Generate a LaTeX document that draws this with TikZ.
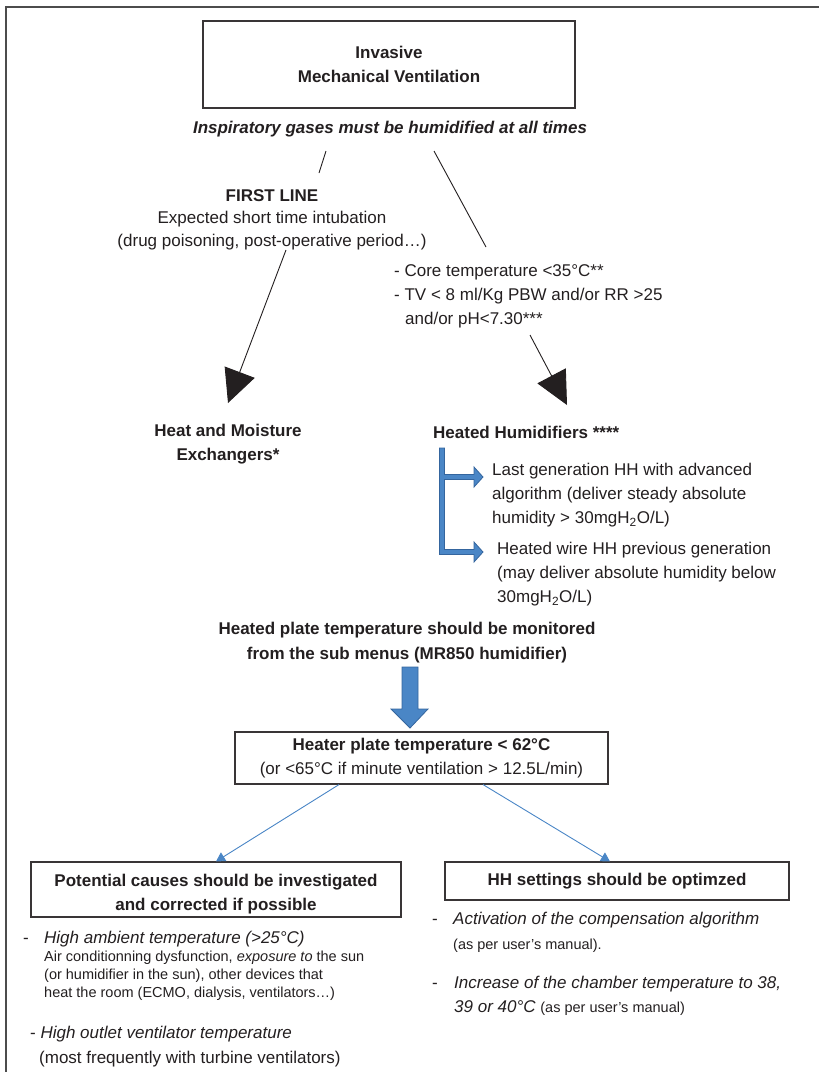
\documentclass[tikz,border=0pt]{standalone}
\usepackage{fontspec}
\setmainfont{Liberation Sans}
\usetikzlibrary{arrows.meta,positioning}
\definecolor{hhblue}{RGB}{74,134,198}
\definecolor{hhedge}{RGB}{52,101,158}
\definecolor{ink}{RGB}{35,31,32}
\newcommand{\bigfont}{\fontsize{17pt}{24pt}\selectfont}
\newcommand{\smallfont}{\fontsize{14.5pt}{18pt}\selectfont}

\begin{document}
\begin{tikzpicture}[x=1pt,y=-1pt,
  txt/.style={inner sep=0pt,font=\bigfont,text=ink},
  box/.style={draw=ink!90,line width=1.1pt,inner sep=0pt,font=\bigfont,text=ink,align=center},
  thinline/.style={draw=ink,line width=0.9pt},
  bigtip/.style={thinline,-{Triangle[length=33pt,width=32pt]}},
  bluelink/.style={draw=hhblue,line width=0.9pt,-{Triangle[length=9pt,width=10pt]}},
  blockarrow/.style={fill=hhblue,draw=hhedge,line width=0.8pt,line join=miter}]
\useasboundingbox (0,0) rectangle (819,1072);
% frame (top and left only)
\draw[gray!60!black,line width=1.6pt] (819,7) -- (6,7) -- (6,1072);

% top
\node[box,minimum width=372pt,minimum height=87pt,font=\bigfont\bfseries] (imv) at (389,64.5) {Invasive\\Mechanical Ventilation};
\node[txt,anchor=base,font=\bigfont\bfseries\itshape] (inspire) at (390,133) {Inspiratory gases must be humidified at all times};

% first line branch
\coordinate (a1) at (326,151); \coordinate (a2) at (319,173);
\draw[thinline] (a1) -- (a2);
\node[txt,anchor=north,align=center,font=\fontsize{17pt}{22.5pt}\selectfont] (first) at (272,189)
  {\textbf{FIRST LINE}\\Expected short time intubation\\(drug poisoning, post-operative period…)};
\coordinate (c1) at (286,250); \coordinate (c2) at (228,403);
\draw[bigtip] (c1) -- (c2);
\node[txt,anchor=north,align=center,font=\bigfont\bfseries] (hme) at (228,424) {Heat and Moisture\\Exchangers*};

% second branch
\coordinate (b1) at (434,151); \coordinate (b2) at (486,247);
\draw[thinline] (b1) -- (b2);
\node[txt,anchor=north west,align=left] (core) at (394,264)
  {- Core temperature <35°C**\\- TV < 8 ml/Kg PBW and/or RR >25\\\hspace*{11pt}and/or pH<7.30***};
\coordinate (d1) at (530,335); \coordinate (d2) at (567,405);
\draw[bigtip] (d1) -- (d2);
\node[txt,anchor=base west,font=\bigfont\bfseries] (hh) at (433,438) {Heated Humidifiers ****};

% bracket
\filldraw[blockarrow] (439.5,448) -- (439.5,554.5) -- (474,554.5) -- (474,562) -- (483,552) -- (474,542)
  -- (474,549.5) -- (444.5,549.5) -- (444.5,479.5) -- (474,479.5) -- (474,487) -- (483,477)
  -- (474,467) -- (474,474.5) -- (444.5,474.5) -- (444.5,448) -- cycle;
\node[txt,anchor=north west,align=left] (lastgen) at (492,463)
  {Last generation HH with advanced\\algorithm (deliver steady absolute\\humidity > 30mgH\textsubscript{2}O/L)};
\node[txt,anchor=north west,align=left] (wire) at (497,542)
  {Heated wire HH previous generation\\(may deliver absolute humidity below\\30mgH\textsubscript{2}O/L)};

% heated plate
\node[txt,anchor=north,align=center,font=\fontsize{17pt}{25pt}\selectfont\bfseries] (monitor) at (407,622)
  {Heated plate temperature should be monitored\\from the sub menus (MR850 humidifier)};
\filldraw[blockarrow] (402,667) -- (418,667) -- (418,709) -- (428,709) -- (410,728) -- (391,709) -- (402,709) -- cycle;
\node[box,minimum width=373pt,minimum height=52pt] (heater) at (421.5,758)
  {\textbf{Heater plate temperature < 62°C}\\(or <65°C if minute ventilation > 12.5L/min)};

% two outcomes
\node[box,minimum width=370pt,minimum height=55pt,font=\bigfont\bfseries] (causes) at (216,889.5)
  {\rule{0pt}{22pt}Potential causes should be investigated\\and corrected if possible};
\node[box,minimum width=344pt,minimum height=38pt,font=\bigfont\bfseries] (settings) at (617,881)
  {HH settings should be optimzed};
\draw[bluelink] ([xshift=-82.5pt]heater.south) -- (causes.north);
\draw[bluelink] ([xshift=61.5pt]heater.south) -- ([xshift=-7pt]settings.north);

% settings list
\node[txt,anchor=base west] (dash1) at (432,924) {-};
\node[txt,anchor=base west,font=\bigfont\itshape] (compens) at (453,924) {Activation of the compensation algorithm};
\node[txt,anchor=base west,font=\smallfont] (manual) at (453,949) {(as per user's manual).};
\node[txt,anchor=base west] (dash2) at (432,988) {-};
\node[txt,anchor=north west,align=left,font=\bigfont\itshape] (chamber) at (454,975.6)
  {Increase of the chamber temperature to 38,\\39 or 40°C {\smallfont\upshape (as per user's manual)}};

% causes list
\node[txt,anchor=base west] (dash3) at (23,943) {-};
\node[txt,anchor=base west,font=\bigfont\itshape] (ambient) at (44,943) {High ambient temperature (>25°C)};
\node[txt,anchor=north west,align=left,font=\smallfont] (aircon) at (44,950.4)
  {Air conditionning dysfunction, \textit{exposure to} the sun\\(or humidifier in the sun), other devices that\\heat the room (ECMO, dialysis, ventilators…)};
\node[txt,anchor=north west,align=left] (outlet) at (30,1025.6)
  {- \textit{High outlet ventilator temperature}\\[1pt]\hspace*{9pt}(most frequently with turbine ventilators)};
\end{tikzpicture}
\end{document}
